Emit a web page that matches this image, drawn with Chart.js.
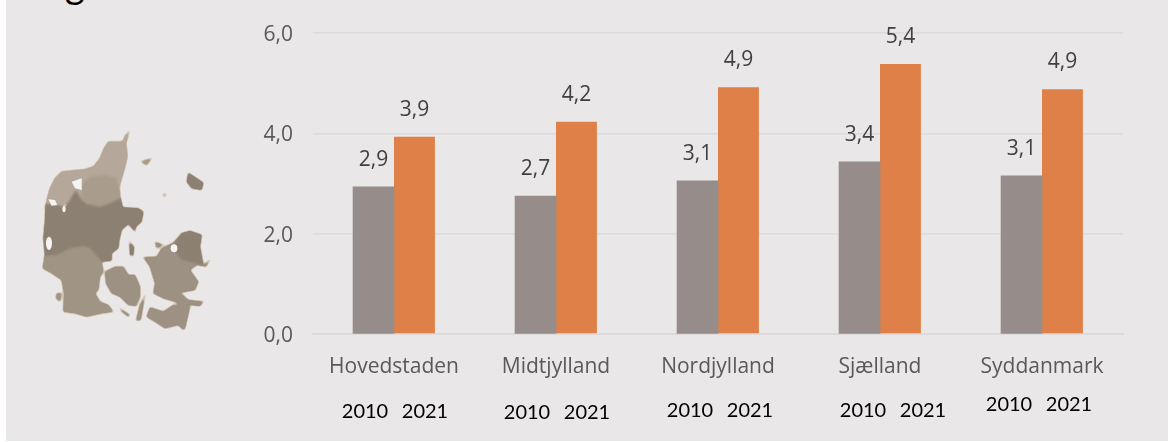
<!DOCTYPE html>
<html><head><meta charset="utf-8">
<script src="https://cdn.jsdelivr.net/npm/chart.js@4/dist/chart.umd.min.js"></script>
<style>
html,body{margin:0;padding:0;background:#fff;width:1168px;height:442px;overflow:hidden}
#panel{position:absolute;left:6px;top:0;width:1162px;height:441px;background:#e9e7e8;overflow:hidden}
#wrap{position:absolute;left:0;top:0;width:1168px;height:442px}
#map{position:absolute;left:0;top:0}
#frag{position:absolute;left:65px;top:-36px;font:38px/38px Lato,sans-serif;color:#000}
</style></head><body>
<div id="panel"></div>
<span id="frag">g</span>
<svg id="map" width="320" height="442" viewBox="0 0 960 1326">
<defs>
<filter id="round" x="0" y="0" width="960" height="1326" filterUnits="userSpaceOnUse" color-interpolation-filters="sRGB">
<feGaussianBlur stdDeviation="3.5"/>
<feComponentTransfer><feFuncA type="linear" slope="4" intercept="-1.4"/></feComponentTransfer>
</filter>
<g id="land">
<path fill="#b5a799" d="M388,393 375,408 368,425 325,425 312,445 300,475 280,500 255,508 215,512 185,515 165,535 150,565 143,590 135,625 175,625 215,600 300,630 362,605 358,560 375,500 382,470 378,430Z"/>
<path fill="#a99c8d" d="M245,555 270,530 320,525 350,535 362,600 300,625 245,600Z"/>
<path fill="#a09585" d="M135,760 170,755 210,735 250,730 280,745 305,785 310,815 300,830 295,870 285,880 300,905 325,915 340,935 305,940 260,950 225,940 190,935 192,880 185,840 155,820 128,805Z"/>
<path fill="#8c8073" d="M137,612 175,615 195,625 215,590 228,570 245,600 262,612 300,620 330,610 362,595 368,622 415,625 430,635 425,665 408,680 405,695 385,672 365,690 358,720 355,745 335,760 335,782 305,785 270,745 250,738 210,745 170,765 135,768 130,715 135,660Z"/>
<path fill="#9c9182" d="M315,815 345,800 370,800 385,825 405,825 420,860 420,890 408,918 385,915 360,890 335,880 318,850Z"/>
<path fill="#9c9182" d="M435,885 422,960 408,962 420,915Z"/>
<path fill="#9c9182" d="M360,925 390,945 385,950 365,935Z"/>
<path fill="#9c9182" d="M430,772 470,770 485,745 520,728 545,700 570,693 605,705 597,750 610,795 630,780 618,800 590,795 570,810 595,845 585,870 540,878 565,900 610,905 600,918 570,915 550,925 525,905 490,895 460,880 465,850 450,800Z"/>
<path fill="#8c8073" d="M520,735 545,700 570,693 605,705 600,740 610,795 570,785 545,780 530,760Z"/>
<path fill="#9c9182" d="M450,922 490,935 520,915 560,915 570,920 555,985 550,990 535,975 495,985 465,965 440,950Z"/>
<path fill="#8c8073" d="M565,518 610,548 605,570 575,565 560,545Z"/>
<path fill="#a89b8c" d="M423,485 455,475 440,495Z"/>
<path fill="#a89b8c" d="M487,584 498,581 495,590Z"/>
<path fill="#8c8073" d="M388,725 402,740 400,768 390,765Z"/>
<path fill="#a09585" d="M170,880 185,880 180,905 168,895Z"/>
<path fill="#9c9182" d="M465,725 490,735 470,745Z"/>
</g>
</defs>
<g filter="url(#round)"><use href="#land" stroke="#d6c8b4" stroke-width="5" stroke-linejoin="round"/></g>
<g filter="url(#round)"><use href="#land" stroke="none"/></g>
<g fill="#f6f4f3" style="filter:blur(.5px)">
<path d="M215,545 245,535 245,570 225,565Z"/>
<path d="M145,598 165,600 172,615 155,617Z"/>
<ellipse cx="147" cy="730" rx="9" ry="20"/>
<ellipse cx="522" cy="745" rx="10" ry="12"/>
<ellipse cx="192" cy="628" rx="5" ry="9"/>
</g>
</svg>
<div id="wrap"><canvas id="c" width="1168" height="442"></canvas></div>
<script>
const categories = ["Hovedstaden","Midtjylland","Nordjylland","Sjælland","Syddanmark"];
const values2010 = [2.93,2.75,3.05,3.43,3.15];
const values2021 = [3.93,4.23,4.92,5.38,4.88];
const labels2010 = ["2,9","2,7","3,1","3,4","3,1"];
const labels2021 = ["3,9","4,2","4,9","5,4","4,9"];
const yearLabels = ["2010","2021"];
const yTicks = {0:"0,0",2:"2,0",4:"4,0",6:"6,0"};
const yearRowY = [412,413,411,411,405];
const yearRowDx = [1,1,2,13,-3];

const FONT = "'Open Sans', sans-serif";
const valueLabels = {
  id:"valueLabels",
  afterDatasetsDraw(chart){
    const ctx = chart.ctx;
    ctx.save();
    ctx.textAlign="center"; ctx.textBaseline="middle";
    ctx.fillStyle="#404040"; ctx.font="21px "+FONT;
    [labels2010,labels2021].forEach((set,d)=>{
      chart.getDatasetMeta(d).data.forEach((bar,i)=>{
        ctx.fillText(set[i],bar.x,bar.y-27);
      });
    });
    ctx.fillStyle="#000"; ctx.font="20px Lato, sans-serif";
    const x = chart.scales.x;
    categories.forEach((c,i)=>{
      const cx = x.getPixelForValue(i)+yearRowDx[i];
      ctx.fillText(yearLabels[0],cx-30,yearRowY[i]);
      ctx.fillText(yearLabels[1],cx+30,yearRowY[i]);
    });
    ctx.restore();
  }
};
new Chart(document.getElementById("c"),{
  type:"bar",
  data:{labels:categories,datasets:[
    {label:"2010",data:values2010,backgroundColor:"#968c8a",barPercentage:1,categoryPercentage:0.505,inflateAmount:0.4},
    {label:"2021",data:values2021,backgroundColor:"#de8047",barPercentage:1,categoryPercentage:0.505}
  ]},
  plugins:[valueLabels],
  options:{
    responsive:false,animation:false,
    layout:{padding:{left:213,right:45,top:33,bottom:0}},
    plugins:{legend:{display:false},tooltip:{enabled:false}},
    scales:{
      x:{
        grid:{display:false,drawTicks:false},
        border:{color:"#dcdadb",width:2},
        ticks:{color:"#595959",font:{family:FONT,size:21},padding:20,maxRotation:0,autoSkip:false},
        afterFit(s){s.height=108;}
      },
      y:{
        min:0,max:6,
        afterBuildTicks(s){s.ticks=Object.keys(yTicks).map(v=>({value:+v}));},
        grid:{color:"#dcdadb",lineWidth:1.5,drawTicks:false},
        border:{display:false},
        ticks:{color:"#595959",font:{family:FONT,size:21},padding:20,labelOffset:2,callback:v=>yTicks[v]},
        afterFit(s){s.width=100;}
      }
    }
  }
});
</script>
</body></html>
